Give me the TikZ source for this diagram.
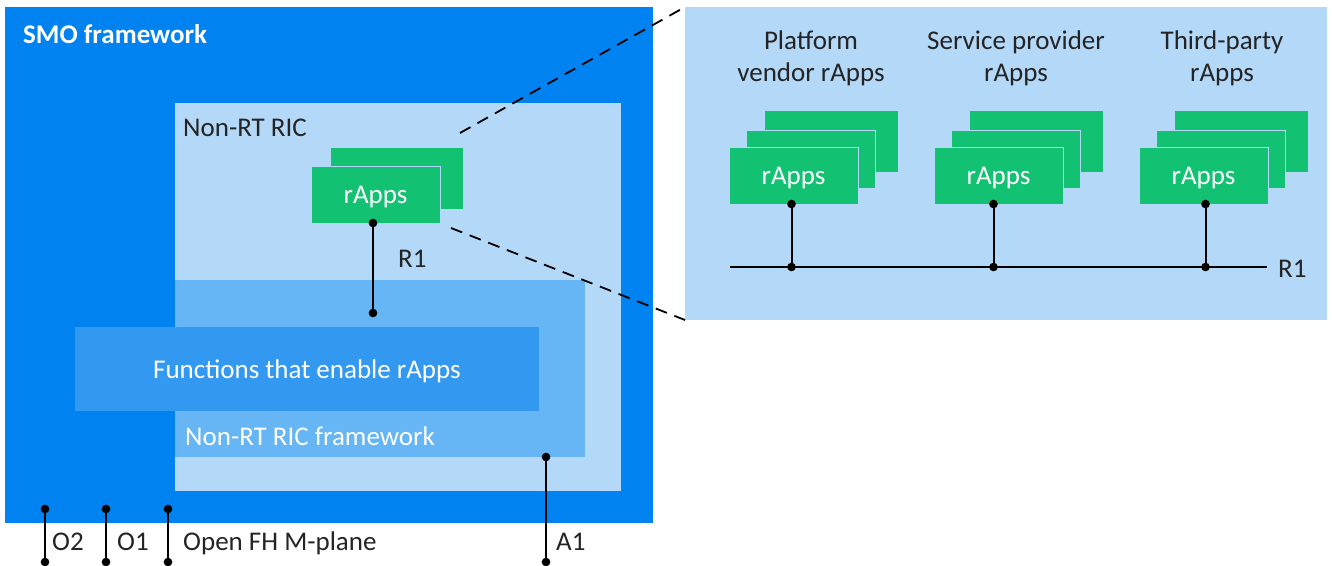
\documentclass[tikz,border=0pt]{standalone}
\usepackage{fontspec}
\setmainfont{Carlito}
\usetikzlibrary{arrows.meta, positioning, calc}
\definecolor{smoblue}{HTML}{0082F0}
\definecolor{ricblue}{HTML}{B3D8F8}
\definecolor{fwblue}{HTML}{66B5F4}
\definecolor{fnblue}{HTML}{3399F0}
\definecolor{appgreen}{HTML}{12C272}
\definecolor{inktext}{HTML}{242424}
\newcommand{\dfont}{\fontsize{27}{32}\selectfont}

\begin{document}
\begin{tikzpicture}[x=1pt, y=-1pt,
    every node/.style={font=\dfont, text=inktext},
    area/.style={anchor=north west, inner sep=0, outer sep=0},
    app/.style={area, fill=appgreen, draw=ricblue, line width=1pt,
                minimum width=129pt, minimum height=57pt,
                text=white, text height=18pt, text depth=0pt},
    lbl/.style={anchor=base west, inner sep=0},
    link/.style={line width=2pt, {Circle[length=8.5pt]}-{Circle[length=8.5pt]},
                 shorten <=-4.25pt, shorten >=-4.25pt},
    bus/.style={line width=2pt},
    zoomline/.style={line width=1.8pt, dash pattern=on 12pt off 8pt},
  ]
    \useasboundingbox (0,0) rectangle (1332,565);

    % SMO side
    \node[area, fill=smoblue, minimum width=648pt, minimum height=516pt] (smo) at (5,7) {};
    \node[lbl, text=white, font=\dfont\bfseries] (smolbl) at (23,43) {SMO framework};
    \node[area, fill=ricblue, minimum width=446pt, minimum height=388pt] (ric) at (175,103) {};
    \node[lbl] (riclbl) at (183,136) {Non-RT RIC};
    \node[area, fill=fwblue, minimum width=410pt, minimum height=177pt] (fw) at (175,280) {};
    \node[lbl, text=white] (fwlbl) at (185,445) {Non-RT RIC framework};
    \node[area, fill=fnblue, minimum width=464pt, minimum height=84pt,
          text=white, text height=18pt, text depth=0pt] (fn) at (75,327) {Functions that enable rApps};

    \node[app, minimum width=133pt, minimum height=62pt] (ricback) at (330,147) {};
    \node[app] (ricapp) at (311,166) {rApps};
    \coordinate (fnin) at (373,313);
    \draw[link] (ricapp.south -| fnin) -- (fnin);
    \node[lbl] (r1a) at (398,267) {R1};

    % interfaces
    \coordinate (o2top) at (45,509);  \coordinate (o2bot) at (45,562);
    \coordinate (o1top) at (106,509); \coordinate (o1bot) at (106,562);
    \coordinate (fhtop) at (168,509); \coordinate (fhbot) at (168,562);
    \coordinate (a1top) at (546,457); \coordinate (a1bot) at (546,562);
    \draw[link] (o2top) -- (o2bot);
    \draw[link] (o1top) -- (o1bot);
    \draw[link] (fhtop) -- (fhbot);
    \draw[link] (a1top) -- (a1bot);
    \node[lbl] (o2lbl) at (52,550) {O2};
    \node[lbl] (o1lbl) at (117,550) {O1};
    \node[lbl] (fhlbl) at (183,550) {Open FH M-plane};
    \node[lbl] (a1lbl) at (556,550) {A1};

    % zoomed-in panel
    \node[area, fill=ricblue, minimum width=642pt, minimum height=313pt] (panel) at (685,7) {};
    \coordinate (zoomtop) at (460,133);
    \coordinate (zoombot) at (451,228);
    \draw[zoomline] (zoomtop) -- (panel.north west);
    \draw[zoomline] (zoombot) -- (panel.south west);

    \node[anchor=north, align=center, inner sep=0] (pvhead) at (811,31) {Platform\\vendor rApps};
    \node[anchor=north, align=center, inner sep=0] (sphead) at (1016,31) {Service provider\\rApps};
    \node[anchor=north, align=center, inner sep=0] (tphead) at (1222,31) {Third-party\\rApps};

    \node[app, minimum width=134pt, minimum height=62pt] (pv3) at (764,110) {};
    \node[app, minimum height=58pt] (pv2) at (746,130) {};
    \node[app] (pv1) at (729,147) {rApps};
    \node[app, minimum width=134pt, minimum height=62pt] (sp3) at (969,110) {};
    \node[app, minimum height=58pt] (sp2) at (951,130) {};
    \node[app] (sp1) at (934,147) {rApps};
    \node[app, minimum width=134pt, minimum height=62pt] (tp3) at (1174,110) {};
    \node[app, minimum height=58pt] (tp2) at (1156,130) {};
    \node[app] (tp1) at (1139,147) {rApps};

    \coordinate (busl) at (730,267);
    \coordinate (busr) at (1267,267);
    \draw[bus] (busl) -- (busr);
    \node[lbl] (r1b) at (1278,277) {R1};
    \draw[link] ([xshift=-2pt]pv1.south) -- ([xshift=-2pt]pv1.south |- busl);
    \draw[link] ([xshift=-5pt]sp1.south) -- ([xshift=-5pt]sp1.south |- busl);
    \draw[link] ([xshift=2pt]tp1.south) -- ([xshift=2pt]tp1.south |- busl);
  \end{tikzpicture}
\end{document}
